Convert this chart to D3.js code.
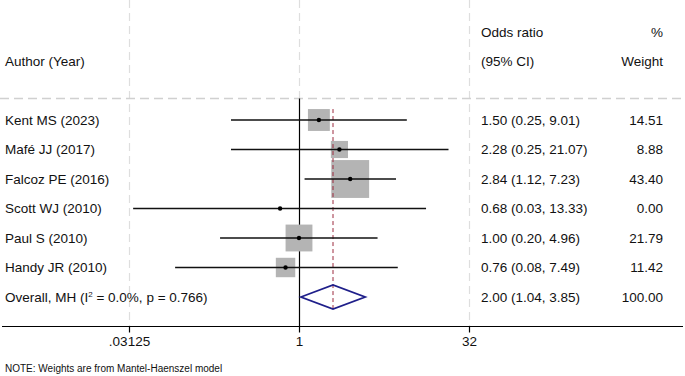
<!DOCTYPE html>
<html>
<head>
<meta charset="utf-8">
<script src="https://cdn.jsdelivr.net/npm/d3@7"></script>
<style>
  html, body { margin: 0; padding: 0; background: #fff; }
  svg { display: block; font-family: "Liberation Sans", Arial, sans-serif; }
</style>
</head>
<body>
<svg id="chart" width="685" height="376"></svg>
<script>
// ---- data ----
const authors = ["Kent MS (2023)", "Mafé JJ (2017)", "Falcoz PE (2016)", "Scott WJ (2010)", "Paul S (2010)", "Handy JR (2010)"];
const oddsRatio = [1.50, 2.28, 2.84, 0.68, 1.00, 0.76];
const ciLow = [0.25, 0.25, 1.12, 0.034, 0.20, 0.08];
const ciHigh = [9.01, 21.07, 7.23, 13.33, 4.96, 7.49];
const weights = [14.51, 8.88, 43.40, 0.00, 21.79, 11.42];
const overallLabel = "Overall, MH";
const overallHet = { i2: "0.0%", p: "0.766" };
const overall = { or: 2.00, lo: 1.04, hi: 3.85, weight: 100.00 };
const tickValues = [0.03125, 1, 32];
const tickLabels = [".03125", "1", "32"];
const headers = { author: "Author (Year)", or1: "Odds ratio", or2: "(95% CI)", w1: "%", w2: "Weight" };
const note = "NOTE: Weights are from Mantel-Haenszel model";

// ---- layout ----
const svg = d3.select("#chart");
const W = 685, H = 376;
const axisY = 326.5;
const sepY = 98.5;
const x = d3.scaleLog().base(2).domain([1/32, 32]).range([129, 469]);
const rowY = d3.scalePoint().domain(d3.range(authors.length + 1)).range([120, 297]);
const boxSide = w => 5.75 * Math.sqrt(w);
const fs = 13.5;
const txtColor = "#111";

// grid lines at ticks
tickValues.forEach(v => {
  const xv = Math.round(x(v)) + 0.5;
  svg.append("line")
    .attr("x1", xv).attr("x2", xv)
    .attr("y1", 0).attr("y2", v === 1 ? sepY : axisY)
    .attr("stroke", "#dedede").attr("stroke-width", 1.2)
    .attr("stroke-dasharray", "8,5");
});

// horizontal separator
svg.append("line")
  .attr("x1", 0).attr("x2", W).attr("y1", sepY).attr("y2", sepY)
  .attr("stroke", "#d0d0d0").attr("stroke-width", 1.5)
  .attr("stroke-dasharray", "9,5");

// headers
const hdr = (t, xx, yy, anchor) => svg.append("text")
  .attr("x", xx).attr("y", yy).attr("dy", "0.35em")
  .attr("text-anchor", anchor).attr("font-size", fs).attr("fill", txtColor).text(t);
hdr(headers.author, 5, 61, "start");
hdr(headers.or1, 481, 32, "start");
hdr(headers.or2, 481, 61, "start");
hdr(headers.w1, 663, 32, "end");
hdr(headers.w2, 663, 61, "end");

// null line
svg.append("line")
  .attr("x1", Math.round(x(1)) + 0.5).attr("x2", Math.round(x(1)) + 0.5)
  .attr("y1", sepY).attr("y2", axisY)
  .attr("stroke", "#000").attr("stroke-width", 1.2);

// boxes
authors.forEach((a, i) => {
  const s = boxSide(weights[i]);
  if (s > 0) {
    svg.append("rect")
      .attr("x", x(oddsRatio[i]) - s / 2).attr("y", rowY(i) - s / 2)
      .attr("width", s).attr("height", s)
      .attr("fill", "#b4b4b4");
  }
});

// overall effect line
svg.append("line")
  .attr("x1", x(overall.or)).attr("x2", x(overall.or))
  .attr("y1", rowY(0) - boxSide(weights[0]) / 2).attr("y2", rowY(authors.length) + 12)
  .attr("stroke", "#9c2a3e").attr("stroke-width", 1)
  .attr("stroke-dasharray", "4,3");

// CI lines and points
authors.forEach((a, i) => {
  const y = rowY(i);
  svg.append("line")
    .attr("x1", x(ciLow[i])).attr("x2", x(ciHigh[i]))
    .attr("y1", y).attr("y2", y)
    .attr("stroke", "#111").attr("stroke-width", 1.6);
  svg.append("circle")
    .attr("cx", x(oddsRatio[i])).attr("cy", y).attr("r", 2.2)
    .attr("fill", "#000");
  svg.append("text")
    .attr("x", 5).attr("y", y).attr("dy", "0.35em")
    .attr("font-size", fs).attr("fill", txtColor).text(a);
  svg.append("text")
    .attr("x", 481).attr("y", y).attr("dy", "0.35em")
    .attr("font-size", fs).attr("fill", txtColor)
    .text(`${oddsRatio[i].toFixed(2)} (${ciLow[i].toFixed(2)}, ${ciHigh[i].toFixed(2)})`);
  svg.append("text")
    .attr("x", 663).attr("y", y).attr("dy", "0.35em")
    .attr("text-anchor", "end")
    .attr("font-size", fs).attr("fill", txtColor).text(weights[i].toFixed(2));
});

// overall diamond
const oy = rowY(authors.length);
const dh = 12;
svg.append("path")
  .attr("d", `M${x(overall.lo)},${oy} L${x(overall.or)},${oy - dh} L${x(overall.hi)},${oy} L${x(overall.or)},${oy + dh} Z`)
  .attr("fill", "none").attr("stroke", "#1f1f8a").attr("stroke-width", 1.8);

const ot = svg.append("text")
  .attr("x", 5).attr("y", oy).attr("dy", "0.35em")
  .attr("font-size", fs).attr("fill", txtColor);
ot.append("tspan").text(`${overallLabel} (I`);
ot.append("tspan").attr("font-size", 8).attr("dy", "-5").text("2");
ot.append("tspan").attr("dy", "5").text(` = ${overallHet.i2}, p = ${overallHet.p})`);

svg.append("text")
  .attr("x", 481).attr("y", oy).attr("dy", "0.35em")
  .attr("font-size", fs).attr("fill", txtColor)
  .text(`${overall.or.toFixed(2)} (${overall.lo.toFixed(2)}, ${overall.hi.toFixed(2)})`);
svg.append("text")
  .attr("x", 663).attr("y", oy).attr("dy", "0.35em").attr("text-anchor", "end")
  .attr("font-size", fs).attr("fill", txtColor).text(overall.weight.toFixed(2));

// axis
const axis = d3.axisBottom(x).tickValues(tickValues)
  .tickFormat((d, i) => tickLabels[i]).tickSize(6).tickPadding(4);
const ag = svg.append("g").attr("transform", `translate(0,${axisY})`).call(axis);
ag.select(".domain").remove();
ag.selectAll(".tick line").attr("stroke", "#000").attr("stroke-width", 1.2);
ag.selectAll(".tick text").attr("font-size", fs).attr("fill", txtColor)
  .attr("font-family", "Liberation Sans, Arial, sans-serif");
svg.append("line")
  .attr("x1", 2).attr("x2", 683).attr("y1", axisY).attr("y2", axisY)
  .attr("stroke", "#000").attr("stroke-width", 1.2);

// note
svg.append("text")
  .attr("x", 5).attr("y", 368).attr("dy", "0.35em")
  .attr("font-size", 10).attr("fill", txtColor).text(note);
</script>
</body>
</html>
